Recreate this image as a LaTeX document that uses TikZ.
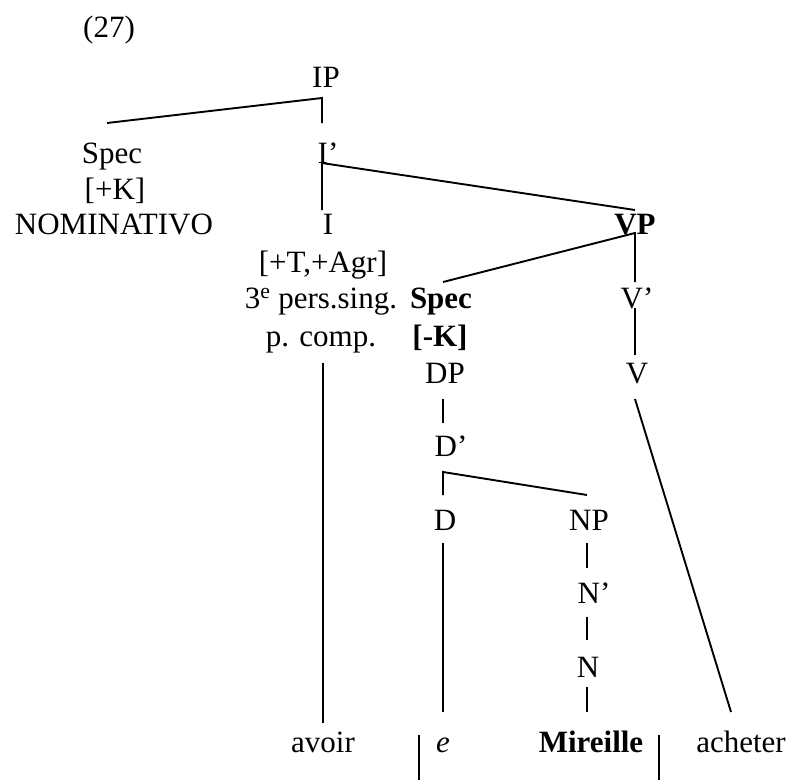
\documentclass[tikz,border=0pt]{standalone}
\usepackage{fontspec}
\setmainfont{Liberation Serif}
\begin{document}
\begin{tikzpicture}[x=1pt,y=-1pt,
  lbl/.style={anchor=base,inner sep=0pt,outer sep=0pt,font=\fontsize{31}{37}\selectfont},
  bl/.style={lbl,font=\fontsize{31}{37}\selectfont\bfseries},
  edge/.style={line width=1.9pt,line cap=butt}]
\useasboundingbox (0,0) rectangle (787,780);
% labels
\node[lbl] (num) at (109,37) {(27)};
\node[lbl] (IP) at (326,87) {IP};
\node[lbl] (SpecI) at (112,163) {Spec};
\node[lbl] (plusK) at (115,199) {[+K]};
\node[lbl] (nom) at (114,234) {NOMINATIVO};
\node[lbl] (Ibar) at (328,163) {I’};
\node[lbl] (I) at (328,234) {I};
\node[bl] (VP) at (635,234) {VP};
\node[lbl] (TAgr) at (323,272) {[+T,+Agr]};
\node[lbl] (pers) at (321,308) {3\textsuperscript{e} pers.sing.};
\node[lbl] (pcomp) at (321,346) {p. comp.};
\node[bl] (SpecV) at (441,308) {Spec};
\node[bl] (minK) at (440,346) {[-K]};
\node[lbl] (DP) at (445,383) {DP};
\node[lbl] (Vbar) at (637,308) {V’};
\node[lbl] (V) at (637,383) {V};
\node[lbl] (Dbar) at (451,456) {D’};
\node[lbl] (D) at (445,530) {D};
\node[lbl] (NP) at (589,530) {NP};
\node[lbl] (Nbar) at (594,603) {N’};
\node[lbl] (N) at (588,677) {N};
\node[lbl] (avoir) at (323,752) {avoir};
\node[lbl] (e) at (443,752) {\itshape e};
\node[bl] (mir) at (591,752) {Mireille};
\node[lbl] (ach) at (741,752) {acheter};
% connector end points
\coordinate (ipL) at (107,123);
\coordinate (ipT) at (322,98);
\coordinate (ipR) at (322,123);
\coordinate (ibT) at (322,163);
\coordinate (ibD) at (322,210);
\coordinate (ibR) at (635,210);
\coordinate (vpT) at (635,233);
\coordinate (vpL) at (443,282);
\coordinate (vpD) at (635,282);
\coordinate (vbT) at (635,308);
\coordinate (vbD) at (635,355);
\coordinate (vT) at (635,399);
\coordinate (achT) at (731,712);
\coordinate (iT) at (323,363);
\coordinate (avT) at (323,723);
\coordinate (dpT) at (443,399);
\coordinate (dpD) at (443,423);
\coordinate (dbT) at (443,472);
\coordinate (dbD) at (443,495);
\coordinate (dbR) at (587,495);
\coordinate (dT) at (443,543);
\coordinate (eT) at (443,712);
\coordinate (npT) at (587,543);
\coordinate (npD) at (587,568);
\coordinate (nbT) at (587,617);
\coordinate (nbD) at (587,640);
\coordinate (nT) at (587,687);
\coordinate (mirT) at (587,712);
\coordinate (barLT) at (419,735);
\coordinate (barLB) at (419,780);
\coordinate (barRT) at (659,735);
\coordinate (barRB) at (659,780);
% connectors
\draw[edge] (ipL) -- (ipT) -- (ipR);
\draw[edge] (ibD) -- (ibT) -- (ibR);
\draw[edge] (vpL) -- (vpT) -- (vpD);
\draw[edge] (vbT) -- (vbD);
\draw[edge] (vT) -- (achT);
\draw[edge] (iT) -- (avT);
\draw[edge] (dpT) -- (dpD);
\draw[edge] (dbD) -- (dbT) -- (dbR);
\draw[edge] (dT) -- (eT);
\draw[edge] (npT) -- (npD);
\draw[edge] (nbT) -- (nbD);
\draw[edge] (nT) -- (mirT);
\draw[edge] (barLT) -- (barLB);
\draw[edge] (barRT) -- (barRB);
\end{tikzpicture}
\end{document}
